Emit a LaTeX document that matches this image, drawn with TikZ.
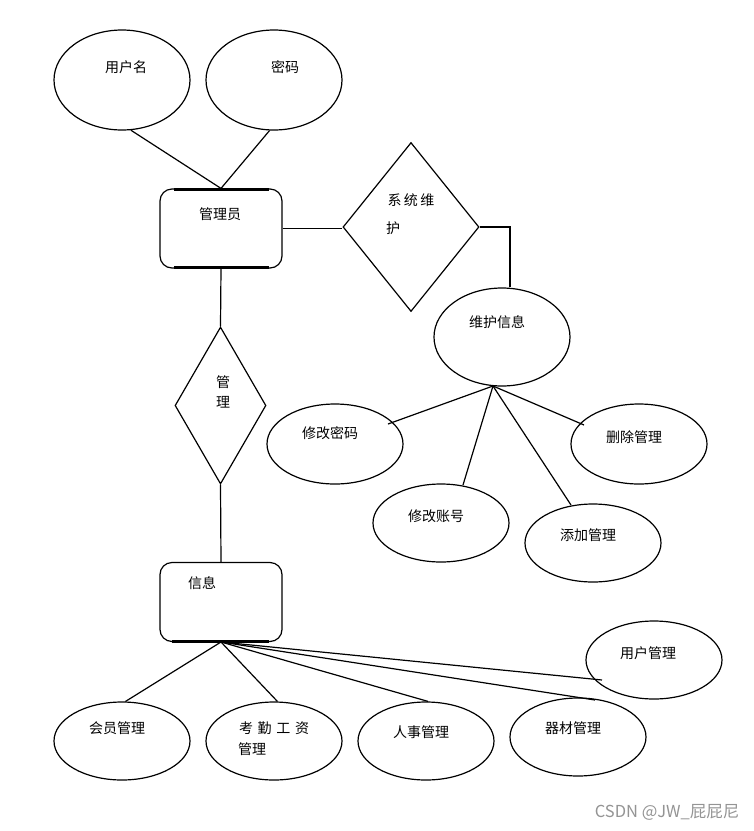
\documentclass[tikz,border=0pt]{standalone}
\usepackage{fontspec}
\setmainfont{Noto Sans CJK SC}
\usetikzlibrary{shapes.geometric,calc}
\begin{document}
\begin{tikzpicture}[x=1pt,y=-1pt,line width=1.2pt,
  attr/.style={draw,ellipse,minimum width=136pt,minimum height=78pt,inner sep=0pt},
  ent/.style={draw,rounded corners=12pt,minimum width=122pt,minimum height=79pt,inner sep=0pt},
  rel/.style={draw,diamond,inner sep=0pt},
  lbl/.style={font=\fontsize{14}{18}\selectfont,inner sep=0pt,align=left},
  thick edge/.style={line width=2.8pt}]
\useasboundingbox (0,0) rectangle (754,831);
\fill[white] (0,0) rectangle (754,831);
% top attributes
\node[attr,minimum height=100pt] (yhm) at (122,80) {};
\node[lbl] (tyhm) at (126,67) {用户名};
\node[attr,minimum height=100pt] (mm) at (274,80) {};
\node[lbl] (tmm) at (285,67) {密码};
% entity 管理员
\node[ent] (gly) at (221,228.5) {};
\node[lbl] (tgly) at (220,214) {管理员};
\draw[thick edge] ($(gly.north west)+(15,1)$) -- ($(gly.north east)+(-14,1)$);
\draw[thick edge] ($(gly.south west)+(15,-1)$) -- ($(gly.south east)+(-14,-1)$);
\draw (yhm.280) -- (gly.north);
\draw (mm.265) -- (gly.north);
% relation 系统维护
\node[rel,minimum width=136pt,minimum height=169pt] (xtwh) at (411,227) {};
\node[lbl] (txtwh1) at (411,200) {系\,统\,维};
\node[lbl] (txtwh2) at (393,228) {护};
\draw (gly.east) -- (gly.east -| xtwh.west);
% 维护信息
\node[attr,minimum height=98pt] (whxx) at (502,337) {};
\node[lbl] (twhxx) at (497,322) {维护信息};
\draw (xtwh.east) -| ($(whxx.north)+(8,0)$);
% maintenance children
\node[attr,minimum height=80pt] (xgmm) at (335,444) {};
\node[lbl] (txgmm) at (330,433) {修改密码};
\node[attr,minimum height=80pt] (sczl) at (639,444) {};
\node[lbl] (tsczl) at (634,437) {删除管理};
\node[attr] (xgzh) at (441,523) {};
\node[lbl] (txgzh) at (436,516) {修改账号};
\node[attr] (tjgl) at (593,543) {};
\node[lbl] (ttjgl) at (588,535) {添加管理};
\coordinate (whb) at (493,386);
\draw (whb) -- ($(xgmm.center)+(53,-20)$);
\draw (whb) -- ($(sczl.center)+(-55,-19)$);
\draw (whb) -- ($(xgzh.center)+(22,-38)$);
\draw (whb) -- ($(tjgl.center)+(-22,-38)$);
% relation 管理
\node[rel,minimum width=91pt,minimum height=157pt] (gl) at (220.5,405.5) {};
\node[lbl] (tgl1) at (223,382) {管};
\node[lbl] (tgl2) at (223,402) {理};
\draw (gly.south) -- (gl.north);
% entity 信息
\node[ent] (xx) at (221,602) {};
\node[lbl] (txx) at (202,583) {信息};
\draw[thick edge] ($(xx.south west)+(13,-1)$) -- ($(xx.south east)+(-14,-1)$);
\draw (gl.south) -- (xx.north);
% bottom attributes
\node[attr] (hygl) at (122,741) {};
\node[lbl] (thygl) at (117,728) {会员管理};
\node[attr] (kqgz) at (274,741) {};
\node[lbl] (tkqgz1) at (274,728) {考\,\,勤\,\,工\,\,资};
\node[lbl] (tkqgz2) at (252,749) {管理};
\node[attr] (rsgl) at (426,741) {};
\node[lbl] (trsgl) at (421,732) {人事管理};
\node[attr] (qcgl) at (578,737) {};
\node[lbl] (tqcgl) at (573,728) {器材管理};
\node[attr] (yhgl) at (654,660) {};
\node[lbl] (tyhgl) at (648,653) {用户管理};
\coordinate (xxb) at (221,642);
\draw (xxb) -- (hygl.85);
\draw (xxb) -- (kqgz.85);
\draw (xxb) -- (rsgl.87);
\draw (xxb) -- ($(qcgl.center)+(17,-37)$);
\draw (xxb) -- ($(yhgl.center)+(-52,20)$);
% watermark
\node[font=\fontsize{16.5}{18}\selectfont,text=black!42,anchor=east,inner sep=0pt] (wm) at (740,812) {CSDN @JW\_屁屁尼};
\end{tikzpicture}
\end{document}
